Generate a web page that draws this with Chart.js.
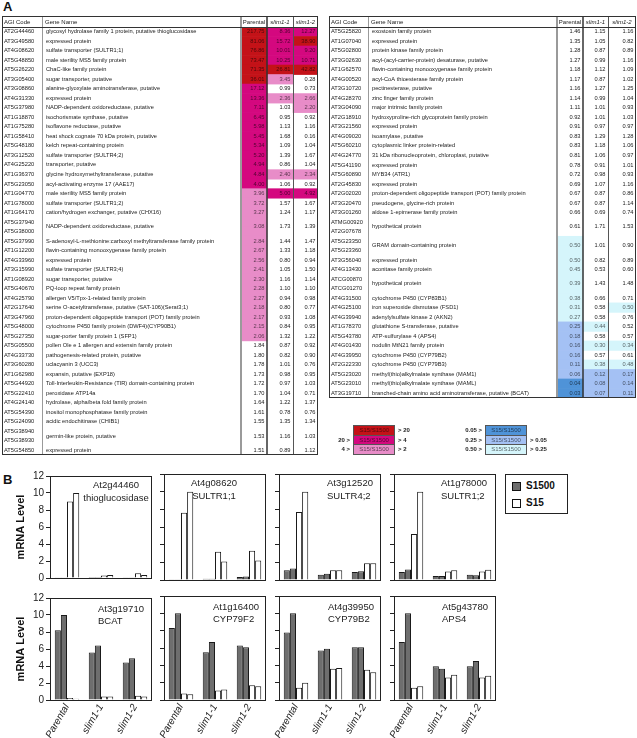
<!DOCTYPE html>
<html>
<head>
<meta charset="utf-8">
<script src="https://cdn.jsdelivr.net/npm/chart.js@4.4.1/dist/chart.umd.min.js"></script>
<style>
  body { margin: 0; width: 637px; height: 738px; position: relative; background: #fff; overflow: hidden;
         font-family: "Liberation Sans", Arial, Helvetica, sans-serif; color: #222; }
  canvas { position: absolute; }
  .panel { position: absolute; font-weight: bold; font-size: 13px; line-height: 13px; color: #111; }
  .kbox { position: absolute; width: 42px; height: 10.5px; box-sizing: border-box; border: 1px solid #555;
          font-size: 6px; line-height: 8.5px; text-align: center; color: rgba(0,0,0,0.6); }
  .ktxt { position: absolute; font-size: 6px; font-weight: bold; line-height: 10px; color: #222; white-space: nowrap; }
  #legB { position: absolute; left: 505px; top: 474px; width: 63px; height: 40px; box-sizing: border-box; border: 1px solid #222; }
  #legB .sw { position: absolute; left: 6px; width: 9px; height: 9px; box-sizing: border-box; border: 1px solid #111; }
  #legB .tx { position: absolute; left: 20px; font-size: 10px; font-weight: bold; line-height: 12px; color: #111; }
</style>
</head>
<body>
<div class="panel" style="left:3px;top:0px">A</div>
<div class="panel" style="left:3px;top:473px">B</div>
<div id="legB">
  <div class="sw" style="top:7px;background:#6e6e6e"></div><div class="tx" style="top:5px">S1500</div>
  <div class="sw" style="top:24px;background:#fff"></div><div class="tx" style="top:22px">S15</div>
</div>
<script>
// ---- Panel A: genes responding to -S (S15/S1500 ratios) ----
const agiLeft = ['AT2G44460','AT3G49580','AT4G08620','AT5G48850','AT5G26220','AT3G05400','AT3G08860','AT4G31330',
  'AT5G37980','AT1G18870','AT1G75280','AT1G58410','AT5G48180','AT3G12520','AT4G25220','AT1G36370','AT5G23050',
  'AT1G04770','AT1G78000','AT1G64170','AT5G37940/AT5G38000','AT5G37990','AT1G12200','AT4G33960','AT3G15990',
  'AT1G08920','AT5G40670','AT4G25790','AT2G17640','AT3G47960','AT5G48000','AT5G27350','AT5G05500','AT4G33730',
  'AT3G60280','AT1G62980','AT5G44920','AT5G22410','AT4G24140','AT5G54390','AT5G24090','AT5G38940/AT5G38930','AT5G54850'];
const geneLeft = ['glycosyl hydrolase family 1 protein, putative thioglucosidase','expressed protein',
  'sulfate transporter (SULTR1;1)','male sterility MS5 family protein','ChaC-like family protein',
  'sugar transporter, putative','alanine-glyoxylate aminotransferase, putative','expressed protein',
  'NADP-dependent oxidoreductase, putative','isochorismate synthase, putative','isoflavone reductase, putative',
  'heat shock cognate 70 kDa protein, putative','kelch repeat-containing protein','sulfate transporter (SULTR4;2)',
  'transporter, putative','glycine hydroxymethyltransferase, putative','acyl-activating enzyme 17 (AAE17)',
  'male sterility MS5 family protein','sulfate transporter (SULTR1;2)','cation/hydrogen exchanger, putative (CHX16)',
  'NADP-dependent oxidoreductase, putative','S-adenosyl-L-methionine:carboxyl methyltransferase family protein',
  'flavin-containing monooxygenase family protein','expressed protein','sulfate transporter (SULTR3;4)',
  'sugar transporter, putative','PQ-loop repeat family protein','allergen V5/Tpx-1-related family protein',
  'serine O-acetyltransferase, putative (SAT-106)(Serat3;1)','proton-dependent oligopeptide transport (POT) family protein',
  'cytochrome P450 family protein (DWF4)(CYP90B1)','sugar-porter family protein 1 (SFP1)',
  'pollen Ole e 1 allergen and extensin family protein','pathogenesis-related protein, putative','uclacyanin 3 (UCC3)',
  'expansin, putative (EXP18)','Toll-Interleukin-Resistance (TIR) domain-containing protein','peroxidase ATP14a',
  'hydrolase, alpha/beta fold family protein','inositol monophosphatase family protein','acidic endochitinase (CHIB1)',
  'germin-like protein, putative','expressed protein'];
const parentalLeft = [217.75,81.06,76.86,73.47,71.35,36.01,17.12,13.36,7.11,6.45,5.98,5.45,5.34,5.20,4.94,4.84,4.00,
  3.96,3.72,3.27,3.08,2.84,2.67,2.56,2.41,2.30,2.28,2.27,2.18,2.17,2.15,2.06,1.84,1.80,1.78,1.73,1.72,1.70,1.64,1.61,1.55,1.53,1.51];
const slim11Left = [8.36,15.72,10.01,10.25,26.81,3.45,0.99,2.36,1.03,0.95,1.13,1.68,1.09,1.39,0.86,2.40,1.06,5.00,1.57,
  1.24,1.73,1.44,1.33,0.80,1.05,1.16,1.10,0.94,0.80,0.93,0.84,1.32,0.87,0.82,1.01,0.98,0.97,1.04,1.22,0.78,1.35,1.16,0.89];
const slim12Left = [12.27,38.90,9.20,10.71,42.82,0.28,0.73,2.66,2.20,0.92,1.16,0.16,1.04,1.67,1.04,2.34,0.92,4.92,1.67,
  1.17,1.39,1.47,1.18,0.94,1.50,1.14,1.10,0.98,0.77,1.08,0.95,1.22,0.92,0.90,0.76,0.95,1.03,0.71,1.37,0.76,1.34,1.03,1.12];

const agiRight = ['AT5G25820','AT1G07040','AT5G02800','AT3G02630','AT1G62570','AT4G00520','AT3G10720','AT4G28370',
  'AT3G04090','AT2G18910','AT3G21560','AT4G09020','AT5G60210','AT4G24770','AT5G41190','AT5G60890','AT2G45830',
  'AT2G02020','AT3G20470','AT3G01260','ATMG00920/AT2G07678','AT5G23350/AT5G23360','AT3G56040','AT4G13430',
  'ATCG00870/ATCG01270','AT4G31500','AT4G25100','AT4G39940','AT1G78370','AT5G43780','AT4G01430','AT4G39950',
  'AT2G22330','AT5G23020','AT5G23010','AT3G19710'];
const geneRight = ['exostosin family protein','expressed protein','protein kinase family protein',
  'acyl-(acyl-carrier-protein) desaturase, putative','flavin-containing monooxygenase family protein',
  'acyl-CoA thioesterase family protein','pectinesterase, putative','zinc finger family protein',
  'major intrinsic family protein','hydroxyproline-rich glycoprotein family protein','expressed protein',
  'isoamylase, putative','cytoplasmic linker protein-related','31 kDa ribonucleoprotein, chloroplast, putative',
  'expressed protein','MYB34 (ATR1)','expressed protein','proton-dependent oligopeptide transport (POT) family protein',
  'pseudogene, glycine-rich protein','aldose 1-epimerase family protein','hypothetical protein',
  'GRAM domain-containing protein','expressed protein','aconitase family protein','hypothetical protein',
  'cytochrome P450 (CYP83B1)','iron superoxide dismutase (FSD1)','adenylylsulfate kinase 2 (AKN2)',
  'glutathione S-transferase, putative','ATP-sulfurylase 4 (APS4)','nodulin MtN21 family protein',
  'cytochrome P450 (CYP79B2)','cytochrome P450 (CYP79B3)','methyl(thio)alkylmalate synthase (MAM1)',
  'methyl(thio)alkylmalate synthase (MAML)','branched-chain amino acid aminotransferase, putative (BCAT)'];
const parentalRight = [1.46,1.35,1.28,1.27,1.18,1.17,1.16,1.14,1.11,0.92,0.91,0.83,0.83,0.81,0.78,0.72,0.69,0.67,
  0.67,0.66,0.61,0.50,0.50,0.45,0.39,0.38,0.31,0.27,0.25,0.18,0.16,0.16,0.11,0.06,0.04,0.03];
const slim11Right = [1.15,1.05,0.87,0.99,1.12,0.87,1.27,0.99,1.01,1.01,0.97,1.29,1.18,1.06,0.91,0.98,1.07,0.87,
  0.87,0.69,1.71,1.01,0.82,0.53,1.43,0.66,0.58,0.58,0.44,0.58,0.30,0.57,0.38,0.12,0.08,0.07];
const slim12Right = [1.16,0.82,0.89,1.16,1.09,1.02,1.25,1.04,0.93,1.03,0.97,1.28,1.06,0.97,1.01,0.93,1.16,0.86,
  1.14,0.74,1.53,0.90,0.89,0.60,1.48,0.71,0.50,0.76,0.52,0.57,0.34,0.61,0.48,0.17,0.14,0.11];

const tableHeader = ['AGI Code', 'Gene Name', 'Parental', 'slim1-1', 'slim1-2'];

// ---- Panel B: RT-PCR mRNA levels, two replicates per condition ----
const lines = ['Parental', 'slim1-1', 'slim1-2'];
const geneIds = ['At2g44460','At4g08620','At3g12520','At1g78000','At3g19710','At1g16400','At4g39950','At5g43780'];
const geneNames = ['thioglucosidase','SULTR1;1','SULTR4;2','SULTR1;2','BCAT','CYP79F2','CYP79B2','APS4'];
// one row per gene, values for Parental, slim1-1, slim1-2
const s1500Rep1 = [[0.02,0.01,0.04],[0.03,0.15,0.35],[1.1,0.6,0.9],[0.9,0.45,0.6],[8.2,5.6,4.4],[8.3,5.5,6.3],[7.8,5.7,6.1],[6.7,3.9,3.9]];
const s1500Rep2 = [[0.02,0.01,0.04],[0.03,0.15,0.4],[1.3,0.7,1.0],[1.2,0.45,0.55],[10,6.4,4.9],[10,6.7,6.1],[10,5.9,6.1],[10,3.6,4.5]];
const s15Rep1 = [[9.0,0.3,0.55],[7.6,3.2,3.3],[7.7,1.1,1.9],[5.2,0.95,0.95],[0.25,0.4,0.5],[0.75,1.1,1.7],[1.4,3.6,3.5],[1.4,2.6,2.6]];
const s15Rep2 = [[10,0.35,0.35],[10,2.1,2.2],[10,1.1,1.9],[10,1.1,1.15],[0.15,0.4,0.4],[0.65,1.2,1.6],[2.0,3.7,3.2],[1.6,2.9,2.8]];
const yTicks = [0, 2, 4, 6, 8, 10, 12];

const FAM = '"Liberation Sans", Arial, Helvetica, sans-serif';
Chart.defaults.font.family = FAM;
Chart.defaults.color = '#222';

const RED = '#c41218', MAG = '#d4087f', PINK = '#e88cc8';
const BLUE = '#4f93d8', PERI = '#a4c1f4', CYAN = '#d5f5fb';

function cellColor(v, mode) {
  if (mode === 'up') {
    if (v > 20) return RED;
    if (v >= 4) return MAG;
    if (v > 2) return PINK;
  } else {
    if (v < 0.05) return BLUE;
    if (v <= 0.25) return PERI;
    if (v <= 0.5) return CYAN;
  }
  return null;
}

const ROW_H = 9.5, HEAD_H = 11, FS = 5.7;

function makeTable(left, colW, agi, names, cols, mode) {
  const span = agi.map(c => c.split('/').length);
  const start = [];
  let u = 0;
  span.forEach(s => { start.push(u); u += s; });
  const nUnits = u;
  const edges = [0];
  colW.forEach(w => edges.push(edges[edges.length - 1] + w));
  const tableW = edges[edges.length - 1];

  const cv = document.createElement('canvas');
  cv.width = tableW + 2;
  cv.height = Math.round(HEAD_H + nUnits * ROW_H) + 2;
  cv.style.left = (left - 1) + 'px';
  cv.style.top = '15px';
  document.body.appendChild(cv);

  const datasets = cols.map((vals, k) => {
    const pts = [], colors = [];
    vals.forEach((v, i) => {
      const c = cellColor(v, mode);
      if (!c) return;
      for (let j = 0; j < span[i]; j++) {
        pts.push({ x: [edges[k + 2], edges[k + 3]], y: start[i] + j + 0.5 });
        colors.push(c);
      }
    });
    return { data: pts, backgroundColor: colors, borderWidth: 0, barPercentage: 1, categoryPercentage: 1, grouped: false };
  });

  const textPlugin = {
    id: 'tableText',
    afterDatasetsDraw(chart) {
      const { ctx, chartArea: a, scales: { x, y } } = chart;
      const X = v => x.getPixelForValue(v);
      const Y = v => y.getPixelForValue(v);
      const top = a.top - HEAD_H;
      ctx.save();
      ctx.textBaseline = 'middle';
      ctx.fillStyle = '#222';
      // header
      const hy = top + HEAD_H / 2 + 0.5;
      ctx.font = `${FS + 0.3}px ${FAM}`;
      ctx.textAlign = 'left';
      ctx.fillText(tableHeader[0], X(edges[0]) + 2, hy);
      ctx.fillText(tableHeader[1], X(edges[1]) + 3, hy);
      ctx.textAlign = 'center';
      ctx.fillText(tableHeader[2], (X(edges[2]) + X(edges[3])) / 2, hy);
      ctx.font = `italic ${FS + 0.3}px ${FAM}`;
      ctx.fillText(tableHeader[3], (X(edges[3]) + X(edges[4])) / 2, hy);
      ctx.fillText(tableHeader[4], (X(edges[4]) + X(edges[5])) / 2, hy);
      // rows
      ctx.font = `${FS}px ${FAM}`;
      agi.forEach((code, i) => {
        const yc = Y(start[i] + span[i] / 2);
        ctx.textAlign = 'left';
        ctx.fillStyle = '#222';
        code.split('/').forEach((c, j) => ctx.fillText(c, X(edges[0]) + 2, Y(start[i] + j + 0.5)));
        ctx.fillText(names[i], X(edges[1]) + 4, yc);
        ctx.textAlign = 'right';
        cols.forEach((vals, k) => {
          ctx.fillStyle = cellColor(vals[i], mode) ? 'rgba(0,0,0,0.62)' : '#222';
          ctx.fillText(vals[i].toFixed(2), X(edges[k + 3]) - 2.5, yc);
        });
      });
      // rules
      const vline = (xv, color, w) => {
        ctx.strokeStyle = color; ctx.lineWidth = w;
        ctx.beginPath(); ctx.moveTo(xv, top); ctx.lineTo(xv, a.bottom); ctx.stroke();
      };
      vline(X(edges[1]) + 0.5, '#9a9a9a', 1);
      vline(X(edges[2]), '#9a9a9a', 2);
      vline(X(edges[3]), '#333', 1.5);
      vline(X(edges[4]) + 0.5, '#555', 1);
      ctx.strokeStyle = '#333'; ctx.lineWidth = 1;
      ctx.beginPath(); ctx.moveTo(a.left, a.top + 0.5); ctx.lineTo(a.right, a.top + 0.5); ctx.stroke();
      ctx.strokeRect(a.left + 0.5, top + 0.5, a.right - a.left - 1, a.bottom - top - 1);
      ctx.restore();
    }
  };

  new Chart(cv, {
    type: 'bar',
    data: { datasets },
    options: {
      indexAxis: 'y',
      responsive: false,
      animation: false,
      events: [],
      layout: { padding: { left: 1, right: 1, top: HEAD_H + 1, bottom: 1 } },
      scales: {
        x: { type: 'linear', min: 0, max: tableW, display: false },
        y: { type: 'linear', min: 0, max: nUnits, reverse: true, offset: false, display: false, ticks: { stepSize: 1 } }
      },
      plugins: { legend: { display: false }, tooltip: { enabled: false } }
    },
    plugins: [textPlugin]
  });
}

makeTable(2, [40, 199, 26, 26, 25], agiLeft, geneLeft, [parentalLeft, slim11Left, slim12Left], 'up');
makeTable(329, [39, 189, 26, 25, 28], agiRight, geneRight, [parentalRight, slim11Right, slim12Right], 'down');

// colour key
function keyBlock(x, colors, leftTxt, rightTxt) {
  colors.forEach((c, i) => {
    const top = 425 + i * 9.5;
    const box = document.createElement('div');
    box.className = 'kbox';
    box.style.left = x + 'px'; box.style.top = top + 'px'; box.style.background = c;
    box.textContent = 'S15/S1500';
    document.body.appendChild(box);
    if (leftTxt[i]) {
      const t = document.createElement('div');
      t.className = 'ktxt';
      t.style.cssText = `left:${x - 42}px;top:${top}px;width:39px;text-align:right`;
      t.textContent = leftTxt[i];
      document.body.appendChild(t);
    }
    if (rightTxt[i]) {
      const t = document.createElement('div');
      t.className = 'ktxt';
      t.style.cssText = `left:${x + 45}px;top:${top}px`;
      t.textContent = rightTxt[i];
      document.body.appendChild(t);
    }
  });
}
keyBlock(353, [RED, MAG, PINK], ['', '20 >', '4 >'], ['> 20', '> 4', '> 2']);
keyBlock(485, [BLUE, PERI, CYAN], ['0.05 >', '0.25 >', '0.50 >'], ['', '> 0.05', '> 0.25']);

// ---- Panel B charts ----
const framePlugin = {
  id: 'frame',
  afterDraw(chart) {
    const { ctx, chartArea: a } = chart;
    ctx.save();
    ctx.strokeStyle = '#222'; ctx.lineWidth = 1;
    ctx.strokeRect(Math.round(a.left) + 0.5, Math.round(a.top) + 0.5,
                   Math.round(a.right - a.left) - 1, Math.round(a.bottom - a.top));
    ctx.restore();
  }
};
const labelPlugin = {
  id: 'geneLabel',
  afterDraw(chart, args, opts) {
    const { ctx, chartArea: a } = chart;
    ctx.save();
    ctx.font = `9.5px ${FAM}`;
    ctx.fillStyle = '#222';
    ctx.textAlign = opts.align;
    ctx.textBaseline = 'middle';
    ctx.fillText(opts.lines[0], a.left + opts.dx, a.top + opts.y1);
    ctx.fillText(opts.lines[1], a.left + opts.dx, a.top + opts.y2);
    ctx.restore();
  }
};

const panelLeft = [50, 164, 279, 394], PANEL_W = 102;
const rowTop = [474, 596], rowPlotH = [106, 104];
const labelAlign = ['center', 'center', 'left', 'left', 'left', 'left', 'left', 'left'];
const labelDx = [66, 50, 48, 47, 48, 49, 49, 48];

geneIds.forEach((id, g) => {
  const col = g % 4, row = Math.floor(g / 4);
  const axisW = col === 0 ? 50 : 6;
  const xAxisH = row === 1 ? 38 : 0;
  const padB = row === 1 ? 0 : 6;
  const cv = document.createElement('canvas');
  cv.width = axisW + PANEL_W + 1;
  cv.height = 6 + rowPlotH[row] + xAxisH + padB;
  cv.style.left = (panelLeft[col] - axisW) + 'px';
  cv.style.top = (rowTop[row] - 6) + 'px';
  document.body.appendChild(cv);

  const bar = (data, color, label) => ({
    label, data, backgroundColor: color, borderColor: '#1a1a1a', borderWidth: 1,
    barPercentage: 1, categoryPercentage: 0.72
  });

  new Chart(cv, {
    type: 'bar',
    data: {
      labels: lines,
      datasets: [
        bar(s1500Rep1[g], '#6e6e6e', 'S1500'),
        bar(s1500Rep2[g], '#6e6e6e', 'S1500'),
        bar(s15Rep1[g], '#ffffff', 'S15'),
        bar(s15Rep2[g], '#ffffff', 'S15')
      ]
    },
    options: {
      responsive: false,
      animation: false,
      events: [],
      layout: { padding: { left: 0, right: 1, top: 6, bottom: padB } },
      scales: {
        x: {
          grid: { display: false, drawTicks: false },
          border: { display: false },
          ticks: { display: row === 1, minRotation: 60, maxRotation: 60, padding: 2,
                   font: { size: 10, style: 'italic' }, color: '#222' },
          afterFit: s => { s.height = xAxisH; }
        },
        y: {
          min: 0, max: 12,
          afterBuildTicks: s => { s.ticks = yTicks.map(v => ({ value: v })); },
          afterFit: s => { s.width = axisW; },
          ticks: { display: col === 0, padding: 2, font: { size: 10 }, color: '#222' },
          grid: { drawOnChartArea: false, tickLength: 4, color: '#222', lineWidth: 1 },
          border: { display: false },
          title: { display: col === 0, text: 'mRNA Level', color: '#111',
                   font: { size: 11, weight: 'bold' }, padding: { top: 14, bottom: 0 } }
        }
      },
      plugins: {
        legend: { display: false },
        tooltip: { enabled: false },
        geneLabel: { lines: [id, geneNames[g]], align: labelAlign[g], dx: labelDx[g],
                     y1: row === 0 ? 9 : 11, y2: row === 0 ? 22 : 23 }
      }
    },
    plugins: [framePlugin, labelPlugin]
  });
});
</script>
</body>
</html>
